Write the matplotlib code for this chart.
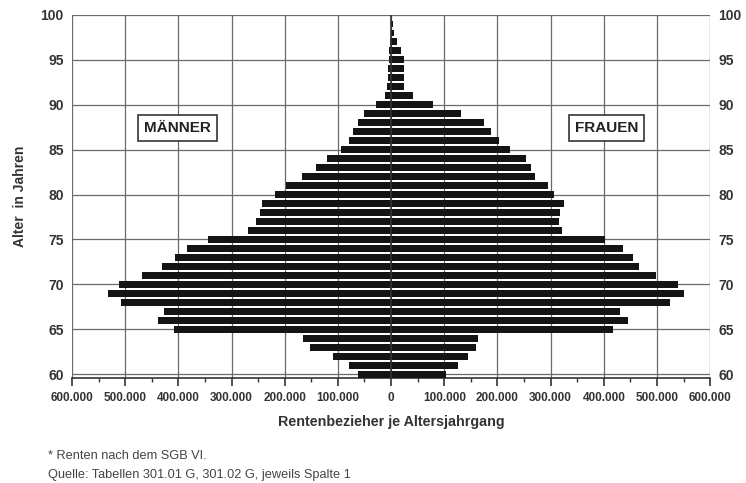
import matplotlib.pyplot as plt
import numpy as np
from matplotlib.ticker import FuncFormatter, MultipleLocator

plt.rcParams['font.family'] = ['Liberation Sans', 'DejaVu Sans']

# Alter 60 bis 99
alter = list(range(60, 100))

# Rentenbezieher Männer je Altersjahrgang (60 ... 99)
maenner = [63000, 79000, 109000, 153000, 165000,
           408000, 438000, 427000, 508000, 532000,
           512000, 469000, 430000, 407000, 383000,
           345000, 269000, 254000, 246000, 242000,
           218000, 198000, 167000, 142000, 120000,
           95000, 80000, 72000, 62000, 50000,
           29000, 12000, 8000, 6000, 5000,
           4000, 3000, 2000, 1000, 1000]

# Rentenbezieherinnen Frauen je Altersjahrgang (60 ... 99)
frauen = [103000, 126000, 145000, 159000, 163000,
          418000, 446000, 430000, 524000, 551000,
          540000, 499000, 467000, 454000, 436000,
          403000, 322000, 315000, 317000, 326000,
          307000, 295000, 271000, 263000, 254000,
          224000, 203000, 188000, 175000, 131000,
          79000, 41000, 25000, 24000, 25000,
          24000, 18000, 11000, 6000, 4000]

fig = plt.figure(figsize=(7.46, 4.83), dpi=100)
ax = fig.add_axes([0.0965, 0.217, 0.8555, 0.752])

ax.barh(alter, [-m for m in maenner], height=0.76, color='#141414', zorder=3)
ax.barh(alter, frauen, height=0.76, color='#141414', zorder=3)

ax.set_xlim(-600000, 600000)
ax.set_ylim(59.55, 100)

# gitter
ax.xaxis.set_major_locator(MultipleLocator(100000))
ax.xaxis.set_minor_locator(MultipleLocator(50000))
ax.yaxis.set_major_locator(MultipleLocator(5))
ax.grid(True, which='major', color='#6a6a6a', linewidth=0.9, zorder=1)
ax.axvline(0, color='#333333', linewidth=1.2, zorder=4)

def tausender(x, pos):
    return '{:,.0f}'.format(abs(x)).replace(',', '.')

ax.xaxis.set_major_formatter(FuncFormatter(tausender))
ax.tick_params(axis='x', which='major', length=6, width=1.2, color='#333333',
               labelsize=8.5, labelcolor='#333333', pad=4)
ax.tick_params(axis='x', which='minor', length=3, width=1.0, color='#333333')
for lab in ax.get_xticklabels():
    lab.set_fontweight('bold')

ax.tick_params(axis='y', length=0, labelsize=10, labelcolor='#333333',
               labelleft=True, labelright=True, pad=6)
for lab in ax.get_yticklabels():
    lab.set_fontweight('bold')

for s in ['top', 'left', 'right']:
    ax.spines[s].set_visible(False)
ax.spines['bottom'].set_color('#333333')
ax.spines['bottom'].set_linewidth(1.2)

ax.set_xlabel('Rentenbezieher je Altersjahrgang', fontsize=10.3, fontweight='bold',
              color='#333333', labelpad=8)
ax.set_ylabel('Alter  in Jahren', fontsize=10, fontweight='bold', color='#333333',
              labelpad=10)

box = dict(boxstyle='square,pad=0.4', facecolor='white', edgecolor='#333333', linewidth=1.2)
ax.text(-402000, 87.4, 'MÄNNER', ha='center', va='center', fontsize=11,
        fontweight='bold', color='#222222', bbox=box, zorder=5)
ax.text(405000, 87.4, 'FRAUEN', ha='center', va='center', fontsize=11,
        fontweight='bold', color='#222222', bbox=box, zorder=5)

fig.text(0.064, 0.05, '* Renten nach dem SGB VI.', fontsize=9.2, color='#444444')
fig.text(0.064, 0.01, 'Quelle: Tabellen 301.01 G, 301.02 G, jeweils Spalte 1',
         fontsize=9.2, color='#444444')

fig.savefig('out.png', dpi=100)
